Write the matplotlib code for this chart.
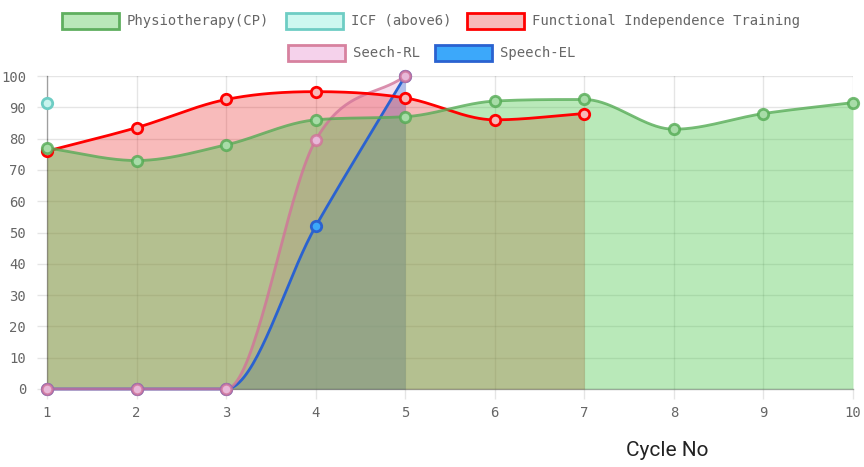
import numpy as np
import matplotlib
matplotlib.use("Agg")
import matplotlib.pyplot as plt
from matplotlib.patches import Rectangle

# data
cycles = [1, 2, 3, 4, 5, 6, 7, 8, 9, 10]
physio = [77, 73, 78, 86, 87, 92, 92.5, 83, 88, 91.5]
icf = [91.5]
fit = [76, 83.5, 92.5, 95, 93, 86, 88]
seech_rl = [0, 0, 0, 79.5, 100]
speech_el = [0, 0, 0, 52, 100]

W, H = 864, 467


def monotone(xs, ys, n=40):
    # Chart.js style monotone cubic (Fritsch-Carlson)
    xs = np.asarray(xs, float)
    ys = np.asarray(ys, float)
    k = len(xs)
    if k < 2:
        return xs, ys
    d = np.diff(ys) / np.diff(xs)
    m = np.zeros(k)
    m[0], m[-1] = d[0], d[-1]
    for i in range(1, k - 1):
        if np.sign(d[i - 1]) != np.sign(d[i]):
            m[i] = 0
        else:
            m[i] = (d[i - 1] + d[i]) / 2
    for i in range(k - 1):
        if abs(d[i]) < 1e-9:
            m[i] = m[i + 1] = 0
            continue
        a, b = m[i] / d[i], m[i + 1] / d[i]
        s = a * a + b * b
        if s > 9:
            t = 3 / np.sqrt(s)
            m[i], m[i + 1] = a * t * d[i], b * t * d[i]
    px, py = [], []
    for i in range(k - 1):
        h = xs[i + 1] - xs[i]
        t = np.linspace(0, 1, n, endpoint=(i == k - 2))
        h00 = 2 * t**3 - 3 * t**2 + 1
        h10 = t**3 - 2 * t**2 + t
        h01 = -2 * t**3 + 3 * t**2
        h11 = t**3 - t**2
        px.append(xs[i] + t * h)
        py.append(h00 * ys[i] + h10 * h * m[i] + h01 * ys[i + 1] + h11 * h * m[i + 1])
    return np.concatenate(px), np.concatenate(py)


series = [
    # label, values, line, area fill, marker face, legend fill, legend edge
    ("Physiotherapy(CP)", physio, (0.33, 0.67, 0.33, 0.8), (80/255, 200/255, 80/255, 0.4),
     "#a8dca8", "#b9e8b9", "#5faf5f"),
    ("ICF (above6)", icf, "#6ecdc4", (0.6, 0.9, 0.85, 0.3), "#c8f4ee", "#cdf8f0", "#6ecdc4"),
    ("Functional Independence Training", fit, "#ff0000", (235/255, 30/255, 30/255, 0.3),
     "#f7b9b9", "#f8b9b9", "#ff0000"),
    ("Seech-RL", seech_rl, (0.82, 0.45, 0.6, 0.8), (230/255, 150/255, 200/255, 0.3),
     "#e8b8d8", "#f5d2eb", "#d7829f"),
    ("Speech-EL", speech_el, "#2a62d0", (60/255, 165/255, 245/255, 0.5),
     "#3ca8fa", "#3ca8fa", "#2a62d0"),
]

fig = plt.figure(figsize=(W / 100, H / 100), dpi=100)
ax = fig.add_axes([47 / W, 78 / H, 806 / W, 313 / H])
ax.set_xlim(1, 10)
ax.set_ylim(0, 100)

# fills first, last dataset underneath
for lab, vals, lc, fc, mf, lf, le in reversed(series):
    xs = cycles[:len(vals)]
    if len(vals) > 1:
        sx, sy = monotone(xs, vals)
        ax.fill_between(sx, 0, sy, color=fc, lw=0, zorder=1)

for lab, vals, lc, fc, mf, lf, le in reversed(series):
    xs = cycles[:len(vals)]
    if len(vals) > 1:
        sx, sy = monotone(xs, vals)
        ax.plot(sx, sy, color=lc, lw=2.0, zorder=3, clip_on=False)
    ax.plot(xs, vals, "o", ms=7.5, mfc=mf, mec=lc, mew=2.0, zorder=4, clip_on=False)

ax.set_xticks(cycles)
ax.set_yticks(range(0, 101, 10))
ax.grid(True, color="black", alpha=0.1, lw=1, zorder=0.5)
ax.set_axisbelow(True)
for s in ["top", "right"]:
    ax.spines[s].set_visible(False)
for s in ["left", "bottom"]:
    ax.spines[s].set_color((0, 0, 0, 0.3))
    ax.spines[s].set_linewidth(1)
ax.tick_params(axis="both", length=7, width=1, color=(0, 0, 0, 0.1),
               labelcolor="#666666", labelsize=10)
ax.tick_params(axis="y", pad=8)
ax.tick_params(axis="x", pad=5)
for t in ax.get_xticklabels() + ax.get_yticklabels():
    t.set_family("DejaVu Sans Mono")

fig.text(667 / W, 1 - 451 / H, "Cycle No", family="Roboto", fontsize=15,
         color="#222222", ha="center", va="center")

# legend, two centred rows
rows = [
    [(62, 21, 0), (286, 21, 1), (467, 21, 2)],
    [(288, 53, 3), (435, 53, 4)],
]
for row in rows:
    for bx, cy, i in row:
        lab, vals, lc, fc, mf, lf, le = series[i]
        fig.add_artist(Rectangle((bx / W, 1 - (cy + 8) / H), 57 / W, 16 / H,
                                 transform=fig.transFigure, facecolor=lf,
                                 edgecolor=le, lw=2))
        fig.text((bx + 65) / W, 1 - cy / H, lab, family="DejaVu Sans Mono",
                 fontsize=10, color="#666666", ha="left", va="center")

fig.savefig("out.png", dpi=100)
